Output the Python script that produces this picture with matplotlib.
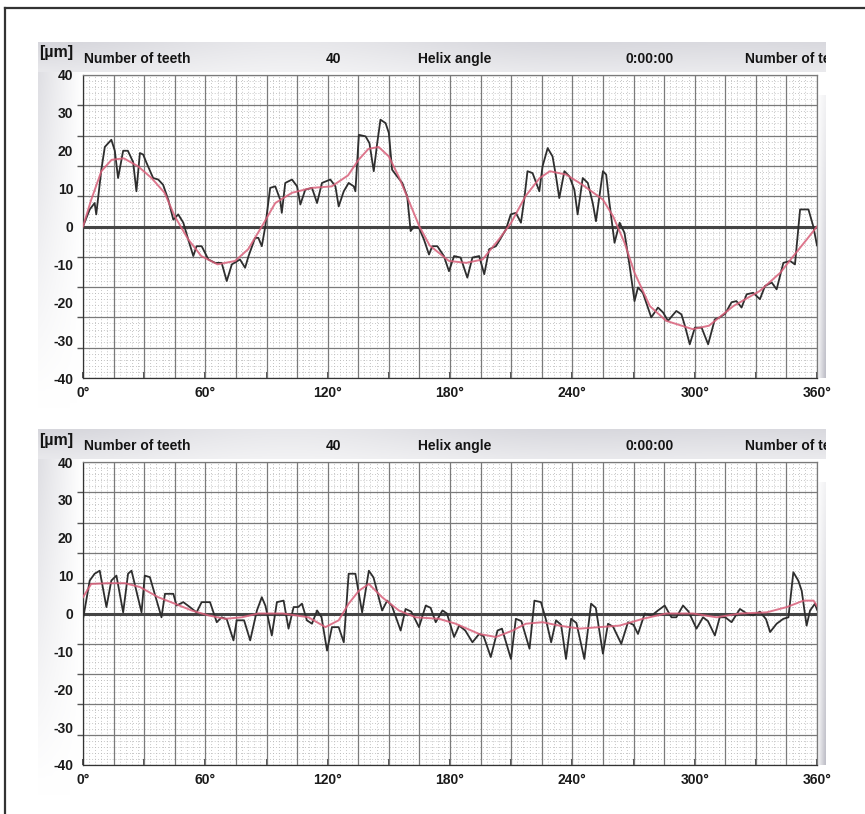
import numpy as np
import matplotlib
matplotlib.use("Agg")
import matplotlib.pyplot as plt
from matplotlib.lines import Line2D
from matplotlib.colors import LinearSegmentedColormap

plt.rcParams['font.family'] = ['Liberation Sans', 'DejaVu Sans']

# ---- data (angle in degrees, deviation in um) ----
top_meas_deg = [0, 3.3, 5.7, 6.5, 9, 10.7, 13.9, 15.6, 17.2, 19.7, 22, 24.6, 26.2, 27.9, 29.5, 31,
                34.4, 36.9, 39.3, 41.8, 44.3, 46.7, 49.2, 51.6, 54.1, 55.7, 58.2, 61.5, 64.8, 68,
                70.5, 73, 77, 79.5, 81.2, 84.4, 86, 87.7, 89.4, 91.8, 94.3, 96.7, 97.5, 99.2,
                102.5, 105, 106.6, 109, 112.3, 114.8, 117.2, 121.3, 123.8, 125.4, 127.9, 130.3,
                132.8, 133.6, 135.3, 138.6, 140.5, 142.6, 144.3, 145.9, 148.4, 150, 151.6, 154.1,
                156.6, 159, 160.7, 162.3, 164.8, 167.2, 169.7, 171.3, 173.8, 177, 179.5, 182,
                185.2, 188.5, 191, 194.3, 196.8, 199.2, 202.5, 204, 207.4, 209.8, 212.3, 214.8,
                216.4, 218, 220.5, 223.8, 225.4, 227.9, 230.3, 232, 233.6, 236.1, 238.6, 241,
                242.6, 245.1, 247.6, 250, 251.6, 255, 256.6, 258.2, 260.7, 263.2, 265.6, 268.1,
                270.5, 272.2, 274.6, 278.7, 282, 284.5, 286.9, 291, 293.5, 295.2, 297.6, 300.1,
                303.4, 306.6, 309.9, 312.3, 315, 318.1, 320.5, 323, 325.5, 328.7, 332, 334.5,
                337.8, 340.2, 343.5, 346.8, 349.2, 351.7, 355.8, 358.2, 360]
top_meas_um = [0, 4.5, 6.2, 3.2, 15, 21, 22.9, 20, 12.8, 20, 20, 17, 9.3, 19.4, 19, 17,
               12.8, 12.4, 11, 7.1, 1.8, 3.2, 1, -3.4, -7.8, -5.2, -5.2, -8.7, -9.6, -9.6,
               -14.4, -10, -8.7, -10.9, -7.8, -3, -3, -5.2, 0, 10.2, 10.6, 7.1, 3.6, 11.5,
               12.4, 10.6, 5.8, 9.7, 10.2, 6.2, 11.5, 12.4, 10.6, 5.3, 9.3, 11.5,
               10.6, 9.3, 24.2, 23.8, 22, 14.6, 22, 28.2, 27.3, 24.7, 15, 13.2,
               11.5, 8, -1.2, 0, -0.4, -3.4, -7.4, -5.2, -5.2, -7.8, -11.8, -7.8,
               -8.2, -13.5, -8.2, -7.8, -12.6, -6, -5.2, -3.9, -0.8, 3.2, 3.6, 1,
               7.1, 14.6, 14.1, 9.3, 15.9, 20.7, 18.5, 13.2, 7.5, 14.6, 13.2, 9.7,
               3.2, 12.8, 11.5, 6.2, 1.4, 14.6, 13.7, 6.2, -4.3, 1, -1.7, -10.4,
               -19.7, -16.1, -17.5, -24, -21.4, -22.7, -24.9, -22.3, -23.2, -26.2, -31.1, -26.7,
               -26.7, -31.1, -24.5, -24, -23, -20, -19.7, -21.4, -17.9, -17.5, -19.2, -15.7,
               -14.8, -16.6, -9.6, -9.1, -10, 4.5, 4.5, 0, -5]

top_fit_deg = [0, 4, 9, 14, 20, 27, 33.6, 40, 45, 51.6, 58, 66, 74.6, 81, 87.7, 94.3, 102.5,
               112.3, 122, 130, 135, 140, 145, 150, 155, 160, 165, 170, 179.5, 188, 196, 204,
               210, 217, 224, 229, 237, 245, 255, 260, 265.6, 270.5, 278, 286, 299, 307, 319,
               332, 342, 348.4, 355, 360]
top_fit_um = [0, 7, 14.6, 17.6, 18, 15.9, 12.8, 8.9, 2.7, -3.4, -7.8, -10, -9.1, -6, 0, 6.2, 8.9,
              10.2, 10.6, 13.5, 17.5, 20.5, 21, 18.5, 13, 6.5, 0, -5, -9.1, -9.6, -8.7, -3.4,
              1, 8, 12.8, 14.6, 13.7, 11, 7.1, 2.7, -4.3, -12.2, -21, -24.9, -27.1, -26.2, -21,
              -17, -12.2, -7.8, -3.4, 0]

bot_meas_deg = [0, 3.3, 5.7, 8.2, 11.5, 13.9, 16.4, 19.7, 22.1, 23.8, 28.7, 30.3, 32.8, 38.5,
                40.2, 44.3, 45.9, 49.2, 52.4, 55.7, 58.2, 62.3, 65.6, 68, 70.5, 73.8, 75.4, 79,
                82, 85.3, 87.7, 89.5, 92.6, 95.1, 98.4, 100.8, 103.3, 105.5, 107.4, 109.8, 112.3,
                114.8, 117, 119.7, 122.1, 125.4, 127.9, 130.3, 133.6, 136.9, 140.2, 142.5, 146.7,
                149.2, 151.5, 155.8, 158.2, 161, 164.8, 168.1, 170.5, 173, 176.3, 178.5, 182,
                184.5, 187.5, 191, 194.3, 196.5, 200, 203.3, 205.5, 209.9, 212.3, 215, 219,
                221.4, 224.6, 227, 229.6, 232, 234.5, 236.9, 239.4, 242, 245.9, 249.2, 251.5,
                255, 257.5, 260, 264, 267.3, 270, 272.2, 275.5, 279, 282, 285.3, 288.6, 291,
                294.3, 297, 300.9, 304.1, 306.5, 309.9, 312.3, 315, 318.1, 322.2, 325.5, 328.7,
                332, 335, 337, 340.2, 343.5, 346, 348.4, 350.8, 352.5, 354.9, 356.6, 359, 360]
bot_meas_um = [-1.5, 8.7, 10.5, 11.3, 1.7, 8.7, 10, 0.3, 10.5, 11.3, 0.3, 10, 9.6, -1,
               5.2, 5.2, 2.1, 3, 1.7, 0.3, 3, 3, -2.3, -1, -1.5, -7.1, -1.8, -1.8,
               -7.1, 0.8, 4.3, 2, -5.8, 3, 3.4, -4, 1.7, 1.7, 2.6, -1.8, -2.7,
               0.8, -1, -9.8, -3.6, -3.6, -7.6, 10.5, 10.5, 0.3, 11.3, 9.5, 0.8,
               3.4, 2, -4.5, 1.2, 0.5, -3.6, 2.1, 1.5, -2.3, 0.8, 0, -6.2,
               -3.2, -4.5, -7.6, -5.4, -6, -11.5, -4.5, -4, -12, -1.4, -2, -9.3,
               3.4, 3, -1.5, -7.6, -1.8, -3, -12, -1.4, -2.5, -12, 2.6, 1.5,
               -10.6, -2.7, -3.5, -8, -2.3, -3, -5.4, 0, -0.5, 0.8, 2.1, -1, -1,
               2.1, 0.5, -4, -1, -2, -5.8, -1, -1, -2.3, 1.2, 0, -0.5,
               0.5, -1.5, -4.9, -2.7, -1.4, -1, 10.9, 8.7, 6, -3.2, 0.8, 2.6, 1]

bot_fit_deg = [0, 4, 12, 20.5, 27.9, 36.9, 45, 53.3, 61.5, 69.7, 77.9, 86, 98, 110.6, 118.9,
               125.4, 130.3, 135.3, 140.2, 146.7, 154.9, 163.1, 174.6, 182.8, 194.3, 202.5,
               210.7, 217.2, 225.4, 233.6, 243.5, 253.3, 263.1, 274.6, 286, 299.2, 310.7, 322.2,
               335.3, 345.2, 353.4, 358.3, 360]
bot_fit_um = [4.3, 7.8, 8, 8, 7, 4.3, 2.6, 0.8, -0.5, -1.4, -1, 0, 0, -1, -3.6,
              -1.8, 2.6, 6, 7.8, 4.3, 0.8, -1, -1.4, -2.7, -5.4, -6.2,
              -4.5, -2.7, -2.3, -3.2, -4, -3.6, -3.2, -1.4, 0, 0, -1, 0,
              0.3, 1.7, 3.4, 3.4, 2]

x_labels = ['0°', '60°', '120°', '180°', '240°', '300°', '360°']
y_labels = [40, 30, 20, 10, 0, -10, -20, -30, -40]
header_items = [('Number of teeth', 84), ('40', 326), ('Helix angle', 418),
                ('0:00:00', 626), ('Number of teeth', 745)]

W, H = 865, 814


def box(x0, y0, x1, y1):
    return [x0 / W, 1 - y1 / H, (x1 - x0) / W, (y1 - y0) / H]


def shade(fig, rect, img, cmap):
    a = fig.add_axes(rect, zorder=0)
    a.imshow(img, aspect='auto', cmap=cmap, vmin=0, vmax=1, interpolation='bicubic')
    a.set_axis_off()
    return a


gray = LinearSegmentedColormap.from_list('g', ['#ffffff', '#b8b8c2'])


def panel(fig, top, meas_d, meas_v, fit_d, fit_v):
    bottom = top + 303
    # header bar
    hx = np.linspace(0, 1, 200)
    row = 0.35 + 0.15 * np.cos(hx * 9) * (1 - hx) + 0.12 * hx
    img = np.vstack([row * (1.15 - 0.5 * t) for t in np.linspace(0, 1, 12)])
    hax = shade(fig, box(38, top - 33, 826, top - 3), img, gray)
    for label, xp in header_items:
        hax.text((xp - 38) / 788, 0.42, label, transform=hax.transAxes, fontsize=10,
                 fontweight='bold', color='#141414', va='center', ha='left', clip_on=True)
    fig.text(39 / W, 1 - (top - 22) / H, '[µm]', fontsize=11.5, fontweight='bold',
             color='#141414', va='center', ha='left')
    # left and right shading
    lx = np.linspace(1, 0, 30)
    limg = np.vstack([lx * 0.45 * (1 - t) for t in np.linspace(0, 1, 40)])
    shade(fig, box(38, top - 3, 83, bottom + 30), limg, gray)
    rimg = np.vstack([np.linspace(0.2, 0.9, 6) * t for t in np.linspace(0.2, 1, 40)])
    shade(fig, box(818, top + 20, 826, bottom), rimg, gray)

    ax = fig.add_axes(box(83, top, 817, bottom), zorder=2)
    ax.set_facecolor('white')
    ax.set_xlim(0, 360)
    ax.set_ylim(-40, 40)
    dot = (0, (1, 2.5))
    for xv in np.arange(0, 361, 3):
        ax.axvline(xv, color='#b4b4b4', lw=0.6, ls=dot, zorder=1)
    for yv in np.arange(-40, 40.1, 1.6):
        ax.axhline(yv, color='#b4b4b4', lw=0.6, ls=dot, zorder=1)
    for xv in np.arange(0, 361, 15):
        ax.axvline(xv, color='#7a7a7a', lw=0.9, zorder=2)
    for yv in np.arange(-40, 41, 8):
        ax.axhline(yv, color='#7a7a7a', lw=0.9, zorder=2)
    ax.axhline(0, color='#454545', lw=2.2, zorder=3)

    ax.plot(meas_d, meas_v, color='#2e2e2e', lw=1.3, zorder=4)
    ax.plot(fit_d, fit_v, color='#d9607a', lw=1.4, alpha=0.85, zorder=5)

    ax.set_xticks(np.arange(0, 361, 30))
    ax.set_xticklabels([x_labels[i // 2] if i % 2 == 0 else '' for i in range(13)])
    ax.set_yticks(y_labels)
    ax.set_yticklabels([str(v) for v in y_labels])
    ax.set_yticks(np.arange(-40, 41, 8), minor=True)
    ax.tick_params(axis='x', direction='in', length=4, width=1.2, color='#333', pad=6,
                   labelsize=10, labelcolor='#1a1a1a')
    ax.tick_params(axis='y', which='major', length=0, pad=7, labelsize=10,
                   labelcolor='#1a1a1a')
    ax.tick_params(axis='y', which='minor', length=4, width=1, color='#555')
    for t in ax.get_xticklabels() + ax.get_yticklabels():
        t.set_fontweight('bold')
    for s in ax.spines.values():
        s.set_color('#7a7a7a')
        s.set_linewidth(0.9)
    ax.spines['left'].set_color('#333')
    ax.spines['bottom'].set_color('#333')
    return ax


fig = plt.figure(figsize=(W / 100, H / 100), dpi=100)
fig.add_artist(Line2D([5 / W, 5 / W], [0, 1 - 8 / H], transform=fig.transFigure,
                      color='#333333', lw=1.6))
fig.add_artist(Line2D([5 / W, 1], [1 - 8 / H, 1 - 8 / H], transform=fig.transFigure,
                      color='#333333', lw=1.6))

panel(fig, 75, top_meas_deg, top_meas_um, top_fit_deg, top_fit_um)
panel(fig, 462, bot_meas_deg, bot_meas_um, bot_fit_deg, bot_fit_um)

fig.savefig('out.png', dpi=100)
